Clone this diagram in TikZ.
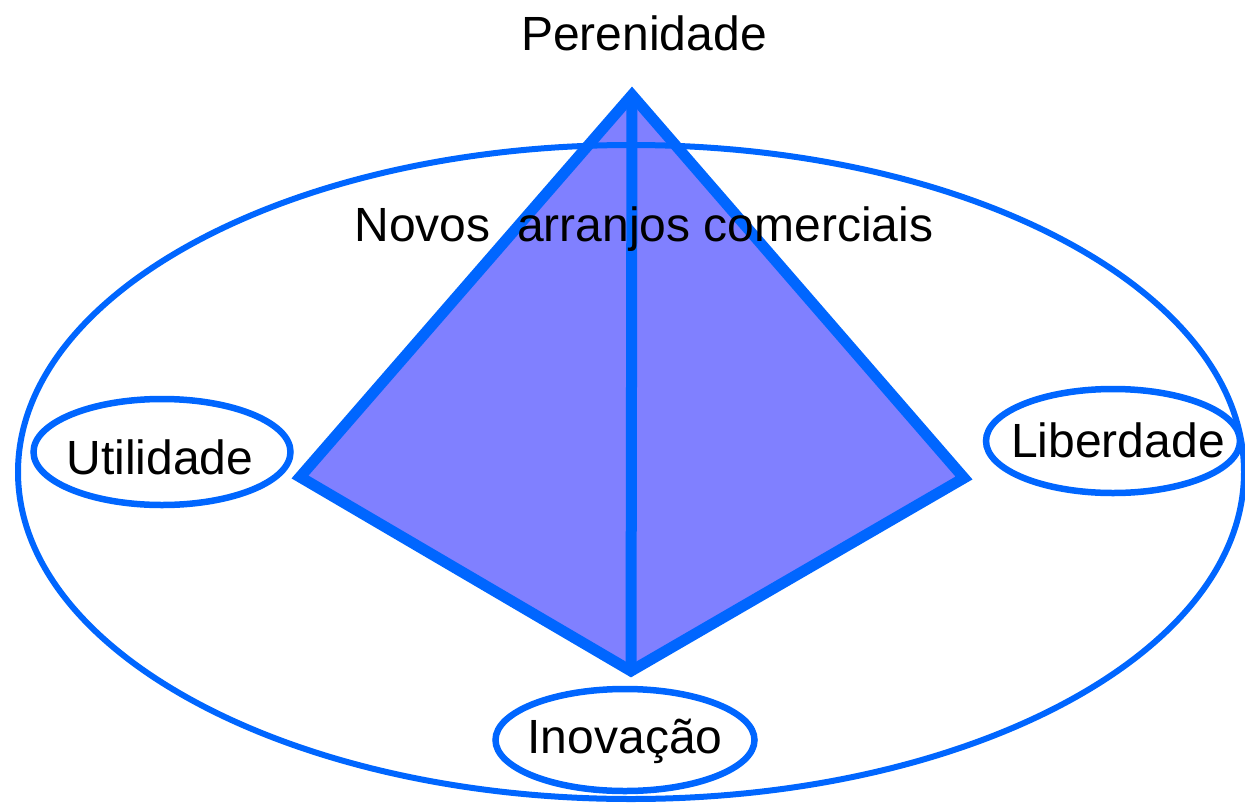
\documentclass[tikz,border=0pt]{standalone}
\usepackage{fontspec}
\setmainfont{Liberation Sans}
\usetikzlibrary{shapes.geometric}
\definecolor{edgeblue}{RGB}{0,102,255}
\definecolor{facefill}{RGB}{128,128,255}
\tikzset{
  lbl/.style={font=\fontsize{48}{50}\selectfont, text=black, inner sep=0pt},
  ring/.style={draw=edgeblue, line width=6.5pt},
  bigring/.style={draw=edgeblue, line width=6pt},
  edge/.style={draw=edgeblue, line width=11pt, line join=miter},
}
\begin{document}
\begin{tikzpicture}[x=1pt,y=-1pt]
\useasboundingbox (0,0) rectangle (1245,806);
\begin{scope}
\clip (0,0) rectangle (1245,806);
% pyramid faces
\coordinate (apex) at (632,95);
\coordinate (lc) at (300,477);
\coordinate (rc) at (964,478);
\coordinate (bt) at (631,671);
\fill[facefill] (apex) -- (lc) -- (bt) -- cycle;
\fill[facefill] (apex) -- (rc) -- (bt) -- cycle;
% big ellipse
\draw[bigring] (631,472) ellipse [x radius=613, y radius=327];
% pyramid edges
\draw[edge] (apex) -- (lc) -- (bt) -- (rc) -- cycle;
\draw[edge] (apex) -- (bt);
\end{scope}
% small ellipses
\node[ring, ellipse, minimum width=257pt, minimum height=106pt] (u) at (162,452) {};
\node[ring, ellipse, minimum width=254pt, minimum height=104pt] (l) at (1113,441) {};
\node[ring, ellipse, minimum width=259pt, minimum height=102pt] (i) at (625,740) {};
% labels
\node[lbl] (tper) at (644,33) {Perenidade};
\node[lbl] (tnov) at (644,229) {Novos\ \ arranjos comerciais};
\node[lbl] (tutl) at (160,457) {Utilidade};
\node[lbl] (tlib) at (1118,440) {Liberdade};
\node[lbl] (tino) at (625,741) {Inovação};
\end{tikzpicture}
\end{document}
